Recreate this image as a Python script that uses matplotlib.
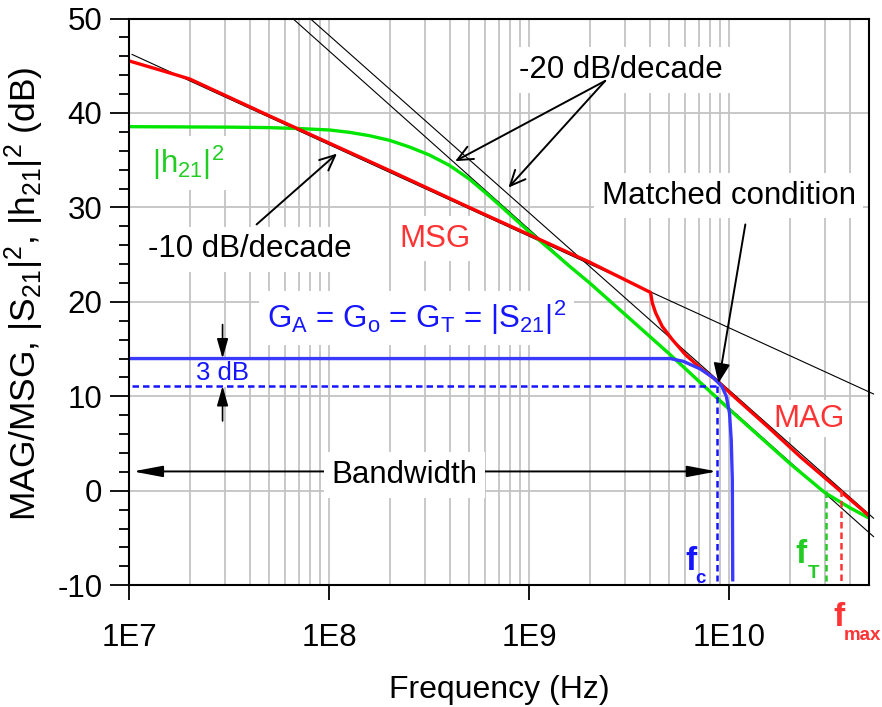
import matplotlib
matplotlib.use("Agg")
import matplotlib.pyplot as plt
from matplotlib.ticker import FixedLocator, FixedFormatter, MultipleLocator, NullFormatter

plt.rcParams['font.family'] = ['Liberation Sans', 'DejaVu Sans']
plt.rcParams['mathtext.fontset'] = 'custom'
plt.rcParams['mathtext.rm'] = 'Liberation Sans'
plt.rcParams['mathtext.it'] = 'Liberation Sans:italic'
plt.rcParams['mathtext.bf'] = 'Liberation Sans:bold'
plt.rcParams['axes.unicode_minus'] = False

# ---- gain curves (frequency in Hz, gain in dB) ----
msg_freq = [1.0e7, 1.5e7, 2.0e7, 5.0e7, 1.0e8, 2.0e8, 5.0e8, 1.0e9, 2.0e9, 4.03e9]
msg_db = [45.5, 44.4, 43.6, 39.7, 36.8, 33.9, 30.0, 27.1, 24.2, 21.0]

mag_freq = [4.11e9, 4.27e9, 4.61e9, 5.18e9, 6.03e9, 7.16e9, 8.71e9, 1.05e10,
            1.55e10, 2.26e10, 3.31e10, 4.9e10, 5.0e10]
mag_db = [19.9, 18.85, 17.4, 16.0, 14.4, 13.0, 11.6, 10.0, 6.8, 3.6, 0.6, -2.5, -2.7]

h21_freq = [1.0e7, 3.16e7, 5.0e7, 7.08e7, 1.0e8, 1.26e8, 1.58e8, 2.0e8, 2.51e8,
            3.16e8, 3.98e8, 5.01e8, 6.31e8, 7.94e8, 1.0e9, 1.26e9, 1.58e9,
            2.0e9, 5.0e9, 1.0e10, 2.0e10, 3.0e10, 4.0e10, 5.0e10]
h21_db = [38.55, 38.5, 38.45, 38.35, 38.2, 37.95, 37.6, 37.1, 36.4,
          35.55, 34.45, 33.0, 31.2, 29.3, 27.4, 25.6, 23.8,
          22.0, 14.5, 8.6, 2.9, -0.2, -1.8, -2.9]

s21_freq = [1.0e7, 4.5e9, 5.06e9, 5.89e9, 7.14e9, 8.32e9, 9.16e9, 9.64e9,
            1.0e10, 1.02e10, 1.033e10, 1.038e10]
s21_db = [14.0, 14.0, 14.0, 13.7, 12.9, 11.95, 11.06, 10.0, 8.24, 5.4, 1.2, -9.6]

# ---- asymptotes ----
slope10_freq = [1.03e7, 5.25e10]
slope10_db = [46.2, 10.25]
slope20_mag_freq = [8.0e7, 5.25e10]
slope20_mag_db = [50.0, -2.9]
slope20_h21_freq = [6.55e7, 5.25e10]
slope20_h21_db = [50.0, -4.85]

# ---- characteristic frequencies / levels ----
f_c = 8.65e9
f_t = 3.03e10
f_max = 3.62e10
level_3db = 11.1
floor_db = -9.6

x_ticks = [1e7, 1e8, 1e9, 1e10]
x_tick_labels = ['1E7', '1E8', '1E9', '1E10']
y_ticks = [-10, 0, 10, 20, 30, 40, 50]

RED = '#ff0000'
RED_TXT = '#ff3333'
GREEN = '#00e600'
GREEN_TXT = '#22cc22'
BLUE = '#3a3aff'
BLUE_TXT = '#1515ff'

fig = plt.figure(figsize=(8.82, 7.07), dpi=100)
ax = fig.add_axes([0.1468, 0.1722, 0.8388, 0.8016])
ax.set_xscale('log')
ax.set_xlim(1e7, 5e10)
ax.set_ylim(-10, 50)

# grid
minor_x = [m * 10 ** e for e in range(7, 11) for m in range(2, 10) if m * 10 ** e < 5e10]
for xv in x_ticks + minor_x:
    ax.axvline(xv, color='#c4c4c4', lw=1.3, zorder=0)
for yv in y_ticks:
    ax.axhline(yv, color='#c4c4c4', lw=1.3, zorder=0)

# asymptote lines
for fx, fy in [(slope10_freq, slope10_db), (slope20_mag_freq, slope20_mag_db),
               (slope20_h21_freq, slope20_h21_db)]:
    ax.plot(fx, fy, color='black', lw=0.8, zorder=2, clip_on=False)

# curves
ax.plot(h21_freq, h21_db, color=GREEN, lw=2.4, zorder=3, solid_capstyle='butt')
ax.plot(msg_freq + mag_freq, msg_db + mag_db, color=RED, lw=2.4, zorder=4,
        solid_capstyle='butt')
ax.plot(s21_freq, s21_db, color=BLUE, lw=2.4, zorder=5, solid_capstyle='butt')

# 3 dB level and characteristic-frequency markers
dash = dict(lw=1.8, dashes=(2.6, 1.6), zorder=5)
ax.plot([1.03e7, f_c], [level_3db, level_3db], color=BLUE_TXT, **dash)
ax.plot([f_c, f_c], [level_3db, floor_db], color=BLUE_TXT, **dash)
ax.plot([f_t, f_t], [0.0, floor_db], color=GREEN_TXT, **dash)
ax.plot([f_max, f_max], [0.1, floor_db], color=RED_TXT, **dash)

# axes styling
for sp in ax.spines.values():
    sp.set_linewidth(1.5)
    sp.set_zorder(7)
ax.xaxis.set_major_locator(FixedLocator(x_ticks))
ax.xaxis.set_major_formatter(FixedFormatter(x_tick_labels))
ax.xaxis.set_minor_locator(FixedLocator([]))
ax.xaxis.set_minor_formatter(NullFormatter())
ax.yaxis.set_major_locator(FixedLocator(y_ticks))
ax.yaxis.set_minor_locator(MultipleLocator(2))
ax.tick_params(axis='x', which='major', direction='out', length=11, width=1.3,
               labelsize=22.5, pad=16)
ax.tick_params(axis='y', which='major', direction='out', length=13.5, width=1.3,
               labelsize=22.5, pad=6)
ax.tick_params(axis='y', which='minor', direction='out', length=7, width=1.3)

ax.set_xlabel('Frequency (Hz)', fontsize=23, labelpad=16)
ax.set_ylabel(r'MAG/MSG, |S$_{\mathregular{21}}$|$^{\mathregular{2}}$, '
              r'|h$_{\mathregular{21}}$|$^{\mathregular{2}}$ (dB)', fontsize=25.5)
ax.yaxis.set_label_coords(-0.113, 0.515)

box = dict(boxstyle='square,pad=0.25', fc='white', ec='none')
FS = 22.5

ax.text(2.86e9, 43.7, '-20 dB/decade', fontsize=FS, ha='center', va='baseline',
        bbox=box, zorder=1.5)
ax.text(9.9e9, 30.4, 'Matched condition', fontsize=FS, ha='center', va='baseline',
        bbox=box, zorder=1.5)
ax.text(3.37e8, 25.85, 'MSG', fontsize=FS, color=RED_TXT, ha='center', va='baseline',
        bbox=box, zorder=1.5)
ax.text(4.0e7, 24.7, '-10 dB/decade', fontsize=FS, ha='center', va='baseline',
        bbox=box, zorder=1.5)
ax.text(1.29e7, 33.6, r'|h$_{\mathregular{21}}$|$^{\mathregular{2}}$', fontsize=FS,
        color=GREEN_TXT, ha='left', va='baseline', bbox=box, zorder=1.5)
ax.text(2.73e8, 17.25,
        r'G$_{\mathregular{A}}$ = G$_{\mathregular{o}}$ = G$_{\mathregular{T}}$ = '
        r'|S$_{\mathregular{21}}$|$^{\mathregular{2}}$',
        fontsize=FS, color=BLUE_TXT, ha='center', va='baseline', bbox=box, zorder=1.5)
ax.text(2.92e7, 11.75, '3 dB', fontsize=18.5, color=BLUE_TXT, ha='center', va='baseline',
        bbox=dict(boxstyle='square,pad=0.1', fc='white', ec='none'), zorder=1.5)
ax.text(2.37e8, 0.85, 'Bandwidth', fontsize=FS, ha='center', va='baseline',
        bbox=box, zorder=6)
ax.text(2.49e10, 6.8, 'MAG', fontsize=FS, color=RED_TXT, ha='center', va='baseline',
        bbox=dict(boxstyle='square,pad=0.1', fc='white', ec='none'), zorder=1.5)

# characteristic-frequency labels: bold "f" plus a small subscript
for fx, fy, sx, sy, sub, col in [(6.03e9, -8.4, 6.75e9, -9.75, 'c', BLUE_TXT),
                                 (2.13e10, -7.6, 2.45e10, -9.2, 'T', GREEN_TXT),
                                 (3.3e10, -14.3, 3.71e10, -15.8, 'max', RED_TXT)]:
    ax.text(fx, fy, 'f', fontsize=24, fontweight='bold', color=col, ha='left',
            va='baseline', zorder=6, clip_on=False)
    ax.text(sx, sy, sub, fontsize=13.5, fontweight='bold', color=col, ha='left',
            va='baseline', zorder=6, clip_on=False)

# arrows
open_head = dict(arrowstyle='->,head_length=0.55,head_width=0.25', color='black',
                 lw=1.4, mutation_scale=20, shrinkA=0, shrinkB=0)
solid_head = dict(arrowstyle='-|>,head_length=0.6,head_width=0.25', color='black',
                  lw=1.4, mutation_scale=20, shrinkA=0, shrinkB=0)
long_head = dict(arrowstyle='-|>,head_length=0.9,head_width=0.17', color='black',
                 lw=1.4, mutation_scale=20, shrinkA=0, shrinkB=0)
small_head = dict(arrowstyle='-|>,head_length=0.6,head_width=0.17', color='black',
                  lw=1.2, mutation_scale=20, shrinkA=0, shrinkB=0)

ax.annotate('', xy=(4.25e8, 34.9), xytext=(2.39e9, 43.4), arrowprops=open_head, zorder=8)
ax.annotate('', xy=(7.85e8, 32.1), xytext=(2.39e9, 43.4), arrowprops=open_head, zorder=8)
ax.annotate('', xy=(1.09e8, 35.7), xytext=(4.32e7, 28.2), arrowprops=open_head, zorder=8)
ax.annotate('', xy=(8.81e9, 11.4), xytext=(1.2e10, 28.2), arrowprops=solid_head, zorder=8)
ax.annotate('', xy=(1.04e7, 2.05), xytext=(2.3e8, 2.05), arrowprops=long_head, zorder=5)
ax.annotate('', xy=(f_c, 2.05), xytext=(2.3e8, 2.05), arrowprops=long_head, zorder=5)
ax.annotate('', xy=(2.92e7, 14.0), xytext=(2.92e7, 17.6), arrowprops=small_head, zorder=8)
ax.annotate('', xy=(2.92e7, level_3db), xytext=(2.92e7, 7.4), arrowprops=small_head, zorder=8)

fig.savefig('out.png', dpi=100)
